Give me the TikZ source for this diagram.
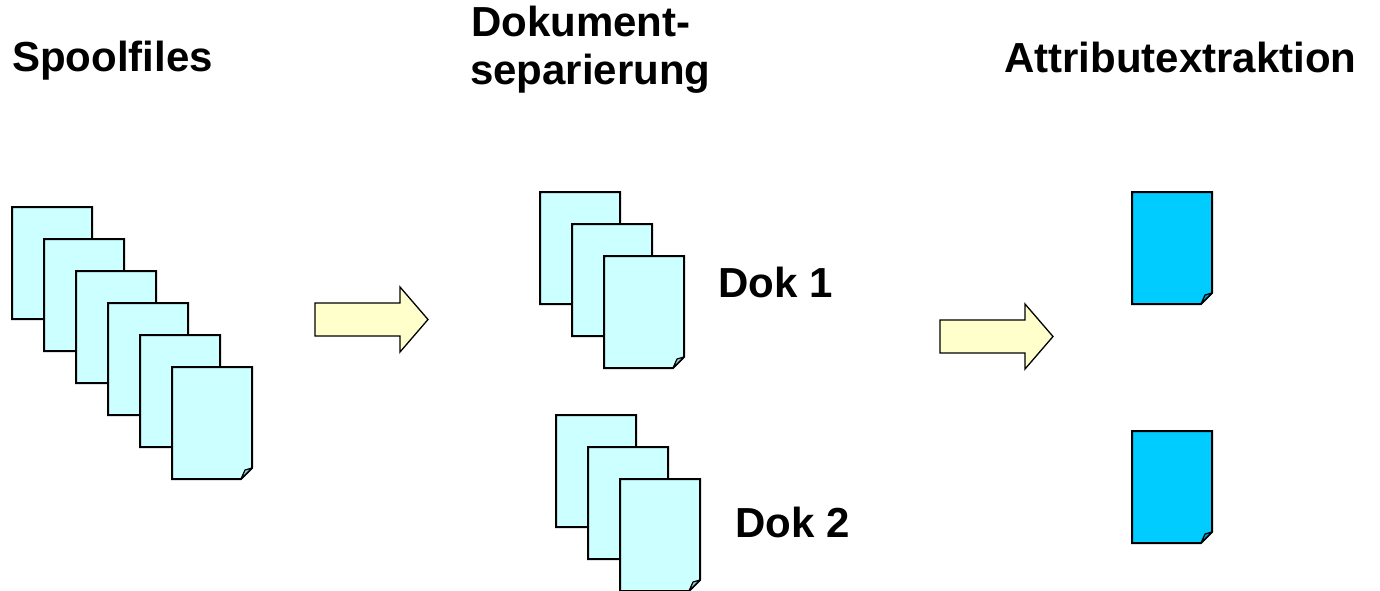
\documentclass[tikz,border=0pt]{standalone}
\usepackage{fontspec}
\setmainfont{Liberation Sans}
\definecolor{pagelight}{HTML}{CCFFFF}
\definecolor{pagelightfold}{HTML}{99CCCC}
\definecolor{pageblue}{HTML}{00CCFF}
\definecolor{pagebluefold}{HTML}{0099CC}
\definecolor{arrowfill}{HTML}{FFFFCC}
\newcommand\mypage[4]{%
  \filldraw[pageline, fill=#3] (#1,#2) -- ++(80,0) -- ++(0,101) -- ++(-11,11) -- ++(-69,0) -- cycle;
  \filldraw[foldline, fill=#4] (#1+69,#2+112) -- (#1+80,#2+101) -- (#1+73,#2+103) -- cycle;
}
\newcommand\myarrow[2]{%
  \filldraw[arrowline] (#1,#2) -- ++(85,0) -- ++(0,-16) -- ++(28,32.5) -- ++(-28,32.5) -- ++(0,-16) -- ++(-85,0) -- cycle;
}
\tikzset{
  pageline/.style={draw=black, line width=2pt, line join=miter},
  foldline/.style={draw=black, line width=1.2pt, line join=round},
  arrowline/.style={draw=black, fill=arrowfill, line width=1.3pt, line join=miter},
  title/.style={inner sep=0pt, font=\fontsize{42}{48}\selectfont\bfseries, anchor=base west},
}
\begin{document}
\begin{tikzpicture}[x=1pt, y=-1pt]
\useasboundingbox (0,0) rectangle (1380,591);
% titles
\node[title] (spool) at (12,72) {Spoolfiles};
\node[title] (doksep1) at (471,37) {Dokument-};
\node[title] (doksep2) at (470,85) {separierung};
\node[title] (attr) at (1004,73) {Attributextraktion};
% spool stack
\foreach \i in {0,...,5} {
  \mypage{12+32*\i}{207+32*\i}{pagelight}{pagelightfold}
}
% arrow 1
\myarrow{315}{303}
% doc 1 stack
\foreach \i in {0,1,2} {
  \mypage{540+32*\i}{192+32*\i}{pagelight}{pagelightfold}
}
\node[title] (dok1) at (718,297) {Dok 1};
% doc 2 stack
\foreach \i in {0,1,2} {
  \mypage{556+32*\i}{415+32*\i}{pagelight}{pagelightfold}
}
\node[title] (dok2) at (735,537) {Dok 2};
% arrow 2
\myarrow{940}{320}
% attribute pages
\mypage{1132}{192}{pageblue}{pagebluefold}
\mypage{1132}{431}{pageblue}{pagebluefold}
\end{tikzpicture}
\end{document}
